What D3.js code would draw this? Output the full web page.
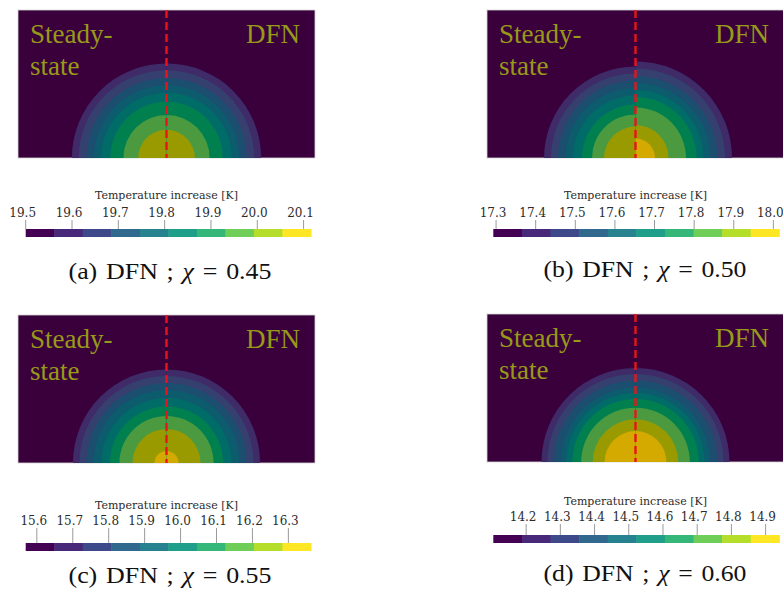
<!DOCTYPE html>
<html>
<head>
<meta charset="utf-8">
<script src="https://cdn.jsdelivr.net/npm/d3@7"></script>
<style>
  html, body { margin: 0; padding: 0; background: #fff; }
  svg { display: block; }
  .map-label { font-family: 'Liberation Serif', serif; font-size: 27px; fill: #979919; }
  .cb-title { font-family: 'DejaVu Serif', serif; font-size: 11px; fill: #2b2b2b; }
  .cb-label { font-family: 'DejaVu Serif', serif; font-size: 12px; fill: #2b2b2b; }
  .caption { font-family: 'Liberation Serif', serif; font-size: 22.5px; fill: #111; word-spacing: 2px; }
</style>
</head>
<body>
<svg id="chart" width="783" height="592"></svg>
<script>
// ---- data ----
const panelLetters = ['a', 'b', 'c', 'd'];
const chiValues = ['0.45', '0.50', '0.55', '0.60'];

// colour bar range [K]
const tempMin = [19.500, 17.293, 15.569, 14.104];
const tempMax = [20.116, 18.015, 16.363, 14.940];

const tickValues = [
  [19.5, 19.6, 19.7, 19.8, 19.9, 20.0, 20.1],
  [17.3, 17.4, 17.5, 17.6, 17.7, 17.8, 17.9, 18.0],
  [15.6, 15.7, 15.8, 15.9, 16.0, 16.1, 16.2, 16.3],
  [14.2, 14.3, 14.4, 14.5, 14.6, 14.7, 14.8, 14.9]
];

// outer radius of each contour band (normalised by section depth), band k -> colour bin k+1
const steadyRadii = [
  [0.639, 0.593, 0.541, 0.491, 0.441, 0.380, 0.291, 0.191],
  [0.618, 0.571, 0.524, 0.473, 0.422, 0.361, 0.294, 0.213],
  [0.632, 0.588, 0.541, 0.493, 0.439, 0.382, 0.318, 0.230, 0.081],
  [0.635, 0.595, 0.551, 0.503, 0.466, 0.426, 0.367, 0.289, 0.209]
];
const dfnRadii = [
  [0.639, 0.593, 0.541, 0.491, 0.441, 0.380, 0.291, 0.191],
  [0.652, 0.605, 0.554, 0.507, 0.459, 0.412, 0.341, 0.223, 0.132],
  [0.632, 0.588, 0.541, 0.493, 0.439, 0.382, 0.318, 0.230, 0.081],
  [0.635, 0.595, 0.551, 0.503, 0.466, 0.426, 0.367, 0.289, 0.209]
];

const binCount = 10;
// colour bar uses plain viridis, the lit surface renders darker
const barColors = d3.range(binCount).map(i => d3.interpolateViridis(i / (binCount - 1)));
const mapColors = ['#3a003c', '#3f2b68', '#35406f', '#1b4e6f', '#0c5c6d',
                   '#006c68', '#00804f', '#4b9a40', '#999a00', '#d4aa00'];

// ---- layout ----
const panelW = 297, panelH = 148;
const layout = [
  { px: 18,  py: 10,  bx0: 25.7,  bx1: 311,   barY: 229, labelY: 217, titleY: 199, capX: 170, capY: 279 },
  { px: 487, py: 10,  bx0: 493.3, bx1: 779.3, barY: 229, labelY: 217, titleY: 199, capX: 645, capY: 277 },
  { px: 18,  py: 315, bx0: 25.7,  bx1: 311,   barY: 543, labelY: 525, titleY: 509, capX: 170, capY: 583 },
  { px: 487, py: 314, bx0: 493.3, bx1: 779.3, barY: 535, labelY: 521, titleY: 505, capX: 645, capY: 581 }
];
const barH = 8;
const captionWidth = 203;

const svg = d3.select('#chart');
const defs = svg.append('defs');

panelLetters.forEach((letter, i) => {
  const L = layout[i];
  const g = svg.append('g').attr('class', 'panel-' + letter);

  const x = d3.scaleLinear().domain([-1, 1]).range([L.px, L.px + panelW]);
  const y = d3.scaleLinear().domain([0, 1]).range([L.py + panelH, L.py]);
  const rPx = r => y(0) - y(r);

  // clip paths for each half
  defs.append('clipPath').attr('id', 'left-' + letter)
    .append('rect').attr('x', x(-1)).attr('y', y(1))
    .attr('width', x(0) - x(-1)).attr('height', y(0) - y(1));
  defs.append('clipPath').attr('id', 'right-' + letter)
    .append('rect').attr('x', x(0)).attr('y', y(1))
    .attr('width', x(1) - x(0)).attr('height', y(0) - y(1));

  g.append('rect')
    .attr('x', x(-1)).attr('y', y(1))
    .attr('width', x(1) - x(-1)).attr('height', y(0) - y(1))
    .attr('fill', mapColors[0])
    .attr('stroke', '#d4d4d4').attr('stroke-width', 0.8);

  [[steadyRadii[i], 'left-'], [dfnRadii[i], 'right-']].forEach(([radii, clip]) => {
    g.append('g').attr('clip-path', `url(#${clip}${letter})`)
      .selectAll('circle')
      .data(radii.map((r, k) => ({ r, bin: k + 1 })))
      .enter().append('circle')
      .attr('cx', x(0))
      .attr('cy', y(0))
      .attr('r', d => rPx(d.r))
      .attr('fill', d => mapColors[d.bin]);
  });

  // divider between steady-state and DFN
  g.append('line')
    .attr('x1', x(0)).attr('x2', x(0))
    .attr('y1', y(1)).attr('y2', y(0))
    .attr('stroke', '#e8141c').attr('stroke-width', 2.4)
    .attr('stroke-dasharray', '8,4');

  g.append('text').attr('class', 'map-label')
    .attr('x', L.px + 12).attr('y', L.py + 33).text('Steady-');
  g.append('text').attr('class', 'map-label')
    .attr('x', L.px + 12).attr('y', L.py + 65).text('state');
  g.append('text').attr('class', 'map-label')
    .attr('x', L.px + panelW - 15).attr('y', L.py + 33)
    .attr('text-anchor', 'end').text('DFN');

  // colour bar
  const t = d3.scaleLinear().domain([tempMin[i], tempMax[i]]).range([L.bx0, L.bx1]);
  const step = (tempMax[i] - tempMin[i]) / binCount;
  g.append('g').selectAll('rect')
    .data(d3.range(binCount))
    .enter().append('rect')
    .attr('x', k => t(tempMin[i] + k * step))
    .attr('width', k => t(tempMin[i] + (k + 1) * step) - t(tempMin[i] + k * step) + 0.5)
    .attr('y', L.barY).attr('height', barH)
    .attr('fill', k => barColors[k]);

  const ticks = g.append('g').selectAll('g')
    .data(tickValues[i])
    .enter().append('g');
  ticks.append('line')
    .attr('x1', d => t(d)).attr('x2', d => t(d))
    .attr('y1', L.labelY + 3).attr('y2', L.barY)
    .attr('stroke', '#9a9a9a').attr('stroke-width', 1);
  ticks.append('text').attr('class', 'cb-label')
    .attr('x', d => t(d) - 3).attr('y', L.labelY)
    .attr('text-anchor', 'middle')
    .text(d => d.toFixed(1));

  g.append('text').attr('class', 'cb-title')
    .attr('x', L.px + panelW / 2).attr('y', L.titleY)
    .attr('text-anchor', 'middle')
    .text('Temperature increase [K]');

  // caption
  const cap = g.append('text').attr('class', 'caption')
    .attr('x', L.capX - captionWidth / 2).attr('y', L.capY)
    .attr('textLength', captionWidth)
    .attr('lengthAdjust', 'spacingAndGlyphs');
  cap.append('tspan').text(`(${letter}) DFN ; `);
  cap.append('tspan').attr('font-style', 'italic').text('χ');
  cap.append('tspan').text(` = ${chiValues[i]}`);
});
</script>
</body>
</html>
